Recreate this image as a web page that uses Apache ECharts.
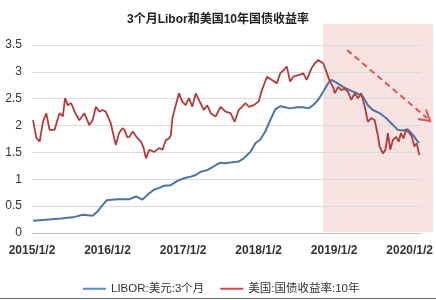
<!DOCTYPE html>
<html><head><meta charset="utf-8">
<script src="https://cdn.jsdelivr.net/npm/echarts@6/dist/echarts.min.js"></script>
<style>html,body{margin:0;padding:0;background:#fff}#c{width:436px;height:300px}</style>
</head><body><div id="c"></div>
<script>
const titleText = '3个月Libor和美国10年国债收益率';
const seriesNames = ['LIBOR:美元:3个月', '美国:国债收益率:10年'];
const tickLabels = ['2015/1/2','2016/1/2','2017/1/2','2018/1/2','2019/1/2','2020/1/2'];
const tickDates = ['2015-01-02','2016-01-02','2017-01-02','2018-01-02','2019-01-02','2020-01-02'];
const yTicks = [0, 0.5, 1, 1.5, 2, 2.5, 3, 3.5];

const liborDates = ['2015-01-07','2015-05-23','2015-07-27','2015-09-04','2015-10-22','2015-11-15','2015-12-09','2015-12-30',
'2016-02-19','2016-04-17','2016-05-19','2016-06-18','2016-07-22','2016-08-15','2016-09-08','2016-10-02','2016-11-03','2016-12-05',
'2017-01-06','2017-02-07','2017-03-04','2017-03-28','2017-04-28','2017-05-22','2017-06-15','2017-07-02','2017-07-18','2017-08-11','2017-09-27','2017-10-22','2017-11-23','2017-12-17',
'2018-01-10','2018-02-03','2018-02-27','2018-03-23','2018-04-16','2018-05-10','2018-06-03','2018-07-05','2018-08-06','2018-08-30','2018-09-23','2018-10-17','2018-11-10','2018-12-04','2018-12-20',
'2019-01-13','2019-02-14','2019-03-18','2019-04-19','2019-05-21','2019-06-14','2019-07-08','2019-08-10','2019-09-10','2019-10-13','2019-11-06','2019-11-30','2019-12-24',
'2020-01-17','2020-02-10','2020-02-18'];
const liborValues = [0.23,0.27,0.30,0.34,0.32,0.40,0.52,0.61,
0.63,0.63,0.68,0.62,0.74,0.81,0.84,0.88,0.89,0.97,
1.02,1.05,1.08,1.14,1.17,1.22,1.28,1.31,1.30,1.31,1.33,1.39,1.51,1.67,
1.74,1.89,2.10,2.30,2.36,2.34,2.32,2.34,2.34,2.32,2.38,2.48,2.63,2.79,2.85,
2.80,2.72,2.66,2.61,2.54,2.38,2.29,2.23,2.14,2.01,1.92,1.91,1.93,
1.83,1.70,1.68];

const tsyDates = ['2015-01-07','2015-01-23','2015-02-08','2015-02-24','2015-03-12','2015-03-28','2015-04-21','2015-05-15','2015-05-31','2015-06-11','2015-06-24','2015-07-10','2015-07-27','2015-08-19','2015-09-12','2015-10-06','2015-10-22','2015-11-07','2015-11-23','2015-12-09','2015-12-25',
'2016-01-18','2016-02-11','2016-02-27','2016-03-14','2016-03-24','2016-04-07','2016-04-17','2016-05-03','2016-05-27','2016-06-12','2016-06-25','2016-07-06','2016-07-22','2016-08-15','2016-09-08','2016-09-24','2016-10-10','2016-10-26','2016-11-03','2016-11-11','2016-11-27','2016-12-13','2016-12-29',
'2017-01-14','2017-01-30','2017-02-15','2017-03-04','2017-03-19','2017-04-12','2017-04-28','2017-05-15','2017-06-08','2017-07-02','2017-07-26','2017-08-19','2017-09-08','2017-09-27','2017-10-13','2017-10-30','2017-11-15','2017-12-09',
'2018-01-02','2018-01-18','2018-02-11','2018-03-07','2018-03-31','2018-04-16','2018-05-02','2018-05-18','2018-06-03','2018-06-19','2018-07-13','2018-08-06','2018-08-22','2018-09-15','2018-10-01','2018-10-17','2018-10-25','2018-11-10','2018-11-26','2018-12-12','2018-12-28',
'2019-01-05','2019-01-21','2019-02-06','2019-02-22','2019-03-10','2019-03-26','2019-04-11','2019-04-27','2019-05-13','2019-05-30','2019-06-14','2019-06-30','2019-07-17','2019-08-01','2019-08-10','2019-08-26','2019-09-07','2019-09-19','2019-09-30','2019-10-13','2019-10-28','2019-11-10','2019-11-21','2019-12-03','2019-12-15',
'2020-01-01','2020-01-13','2020-01-25','2020-02-05','2020-02-18'];
const tsyValues = [2.10,1.77,1.70,2.07,2.23,1.92,1.92,2.23,2.17,2.51,2.38,2.42,2.26,2.10,2.23,2.01,2.10,2.35,2.26,2.29,2.26,
2.04,1.64,1.86,1.95,1.92,1.78,1.79,1.89,1.76,1.70,1.58,1.39,1.55,1.51,1.58,1.55,1.73,1.76,1.82,2.14,2.38,2.60,2.44,
2.38,2.51,2.35,2.60,2.48,2.29,2.38,2.23,2.17,2.35,2.26,2.23,2.07,2.29,2.35,2.42,2.35,2.38,
2.45,2.66,2.91,2.85,2.79,2.97,3.03,3.10,2.82,2.91,2.94,2.97,2.85,3.07,3.16,3.22,3.25,3.16,3.00,2.82,2.72,
2.60,2.72,2.66,2.69,2.63,2.48,2.60,2.51,2.60,2.35,2.07,2.14,2.10,1.82,1.61,1.48,1.55,1.86,1.55,1.73,1.79,1.70,1.86,1.76,1.92,
1.86,1.79,1.61,1.67,1.45];

const shadeStart = '2018-11-10';
const xMin = '2015-01-02', xMax = '2020-02-24';

function ts(s){ return new Date(s + 'T00:00:00Z').getTime(); }
const FONT = "'Liberation Sans','Noto Sans CJK SC',sans-serif";
const tickTs = tickDates.map(ts);

const chart = echarts.init(document.getElementById('c'), null, {renderer:'canvas'});
const option = {
  animation: false,
  backgroundColor: '#fff',
  textStyle: {fontFamily: FONT},
  title: {text: titleText, left: 'center', top: 9,
    textStyle: {fontSize: 12, fontWeight: 'bold', color: '#222', fontFamily: FONT}},
  grid: {left: 32, right: 13, top: 45, bottom: 67, containLabel: false},
  legend: {
    left: 78, top: 278, icon: 'rect', itemWidth: 23, itemHeight: 2, itemGap: 16, itemStyle: {},
    textStyle: {fontSize: 11.5, color: '#333', fontFamily: FONT},
    data: seriesNames
  },
  xAxis: {
    type: 'value', min: ts(xMin), max: ts(xMax),
    axisLine: {show: true, lineStyle: {color: '#bfbfbf', width: 1}},
    axisTick: {show: false},
    splitLine: {show: false},
    axisLabel: {
      customValues: tickTs,
      margin: 12,
      fontSize: 12, fontWeight: 'bold', color: '#333', fontFamily: FONT,
      formatter: function(v){ const i = tickTs.indexOf(v); return i >= 0 ? tickLabels[i] : ''; }
    }
  },
  yAxis: {
    type: 'value', min: 0, max: 3.5, interval: 0.5,
    axisLine: {show: false}, axisTick: {show: false},
    splitLine: {lineStyle: {color: '#dcdcdc', width: 1}},
    axisLabel: {margin: 10, fontSize: 12, color: '#333', fontFamily: FONT,
      formatter: function(v){ return String(v); }}
  },
  series: [
    {name: seriesNames[0], type: 'line', symbol: 'none', z: 3,
     lineStyle: {color: '#4a74a5', width: 2}, itemStyle: {color: '#5b8cc6'},
     data: liborDates.map((d,i)=>[ts(d), liborValues[i]])},
    {name: seriesNames[1], type: 'line', symbol: 'none', z: 4,
     lineStyle: {color: '#b23b3b', width: 1.8}, itemStyle: {color: '#c0504d'},
     data: tsyDates.map((d,i)=>[ts(d), tsyValues[i]])}
  ]
};
chart.setOption(option);

const sx = chart.convertToPixel({xAxisIndex: 0}, ts(shadeStart));
const yBottom = chart.convertToPixel({yAxisIndex: 0}, 0);
chart.setOption({
  graphic: [
    {type: 'rect', z: -10, silent: true,
     shape: {x: sx, y: 24, width: 433 - sx, height: yBottom - 1 - 24},
     style: {fill: '#f8e3e3'}},
    {type: 'line', z: 10, silent: true,
     shape: {x1: 347, y1: 50, x2: 427, y2: 118},
     style: {stroke: '#e2554e', lineWidth: 2, lineDash: [6, 4]}},
    {type: 'polyline', z: 10, silent: true,
     shape: {points: [[418, 119], [430, 121], [426, 109.5]]},
     style: {stroke: '#e2554e', lineWidth: 2, fill: null}},
    {type: 'line', z: 10, silent: true,
     shape: {x1: 0, y1: 298.5, x2: 436, y2: 298.5},
     style: {stroke: '#666', lineWidth: 1}}
  ]
});
</script></body></html>
